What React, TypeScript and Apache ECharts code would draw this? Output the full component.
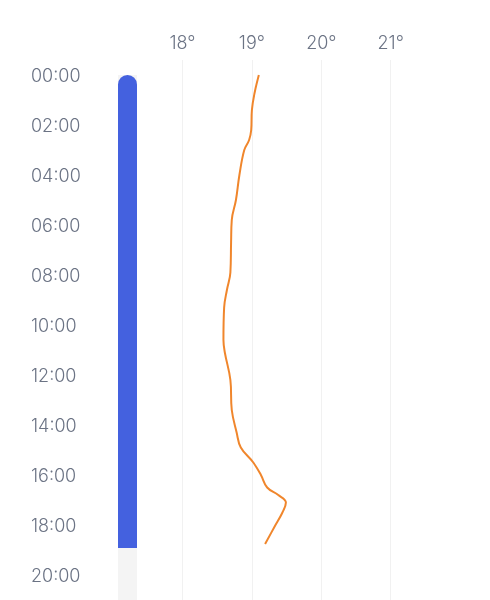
import { useEffect, useRef } from 'react';
import * as echarts from 'echarts';

// time of day in hours (y) and the temperature at that time (x)
const hours = [0, 0.7, 1.4, 2.2, 2.6, 3.0, 4.0, 5.0, 5.8, 6.7, 7.9, 8.6, 9.3, 10.6, 11.1, 12.2, 13.4, 14.3, 14.9, 15.5, 16.0, 16.5, 16.8, 17.1, 17.5, 18.1, 18.76];
const temps = [19.1, 19.04, 19.0, 18.99, 18.96, 18.89, 18.82, 18.77, 18.71, 18.7, 18.69, 18.64, 18.6, 18.59, 18.61, 18.69, 18.71, 18.78, 18.84, 19.02, 19.13, 19.22, 19.38, 19.49, 19.44, 19.32, 19.19];

// elapsed part of the day (blue bar)
const elapsed = [18.92];
const barCategories = ['today'];

const timeLabels = ['00:00', '02:00', '04:00', '06:00', '08:00', '10:00', '12:00', '14:00', '16:00', '18:00', '20:00'];
const tempTicks = [18, 19, 20, 21];

const labelColor = '#6b7384';
const font = 'Inter, "Noto Sans", sans-serif';

const App = () => {
  const chartRef = useRef<HTMLDivElement>(null);

  useEffect(() => {
    if (!chartRef.current) return;
    const chart = echarts.init(chartRef.current, undefined, { renderer: 'svg' });

    const option: echarts.EChartsOption = {
      animation: false,
      grid: [
        { left: 118, width: 19, top: 75, bottom: 0 },
        { left: 182.5, right: 99.3, top: 60, bottom: 0 }
      ],
      xAxis: [
        { gridIndex: 0, type: 'category', data: barCategories, show: false },
        {
          gridIndex: 1,
          type: 'value',
          position: 'top',
          min: tempTicks[0],
          max: tempTicks[tempTicks.length - 1],
          interval: 1,
          axisLine: { show: false },
          axisTick: { show: false },
          axisLabel: {
            formatter: (v: number) => v + '°',
            color: labelColor,
            fontSize: 18,
            fontWeight: 300,
            fontFamily: font,
            margin: 9
          },
          splitLine: { lineStyle: { color: '#f1f1f1', width: 1 } }
        }
      ],
      yAxis: [
        {
          gridIndex: 0,
          type: 'value',
          inverse: true,
          min: 0,
          max: 21,
          interval: 2,
          axisLine: { show: false },
          axisTick: { show: false },
          splitLine: { show: false },
          axisLabel: {
            align: 'left',
            margin: 87,
            color: labelColor,
            fontSize: 18,
            fontWeight: 300,
            fontFamily: font,
            formatter: (v: number) => (v % 2 === 0 ? timeLabels[v / 2] ?? '' : '')
          }
        },
        { gridIndex: 1, type: 'value', inverse: true, min: -0.6, max: 21, show: false }
      ],
      series: [
        {
          type: 'bar',
          xAxisIndex: 0,
          yAxisIndex: 0,
          data: elapsed,
          barWidth: 19,
          itemStyle: { color: '#4461df', borderRadius: [10, 10, 0, 0] },
          showBackground: true,
          backgroundStyle: { color: '#f4f4f4' }
        },
        {
          type: 'line',
          xAxisIndex: 1,
          yAxisIndex: 1,
          data: hours.map((h, i) => [temps[i], h]),
          smooth: 0.4,
          showSymbol: false,
          lineStyle: { color: '#f0862c', width: 2 }
        }
      ]
    };

    chart.setOption(option);
    return () => chart.dispose();
  }, []);

  return (
    <div
      ref={chartRef}
      style={{ position: 'fixed', left: 0, top: 0, width: 490, height: 600 }}
    />
  );
};

export default App;
